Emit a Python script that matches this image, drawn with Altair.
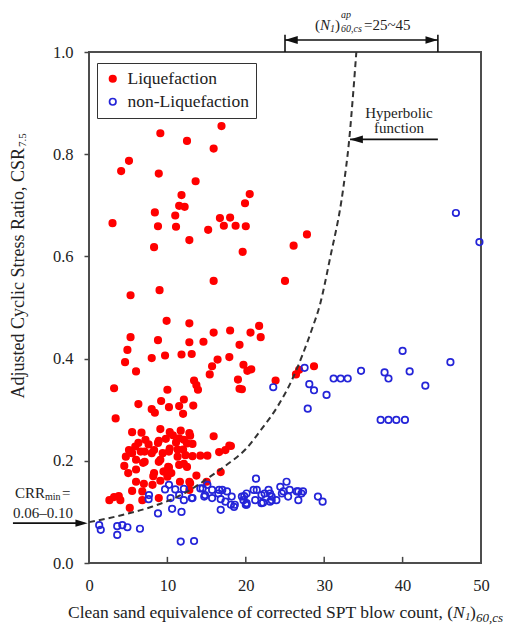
import altair as alt
import pandas as pd

# ---------------- data ----------------
liq_x = [16.9, 9.1, 12.5, 15.9, 5.1, 4.1, 8.9, 13.6, 11.8, 20.5, 19.9, 11.5, 12.2, 8.4, 11.0, 3.0, 8.8, 11.1,
         16.7, 18.0, 17.2, 18.7, 20.0, 15.2, 12.8, 8.3, 19.6, 15.9, 25.0, 5.3, 9.0, 26.1, 27.8,
         9.9, 12.8, 5.3, 8.8, 12.8, 14.6, 15.9, 18.0, 20.6, 21.7, 21.9, 19.2, 4.9, 4.6, 6.0, 8.0, 9.7, 11.8,
         13.1, 16.4, 17.9, 15.7, 15.4, 19.7, 20.7, 20.2, 19.0, 19.2, 19.5, 13.4, 13.7, 13.9, 3.2, 10.0, 6.3,
         9.2, 12.1, 8.0, 8.4, 10.2, 11.5, 13.3, 12.0, 3.4, 23.8, 26.4, 26.8, 28.7,
         5.5, 6.7, 9.1, 10.3, 11.7, 12.8, 15.9, 7.2, 6.3, 7.6, 8.9, 9.8, 11.1, 12.1, 13.2, 5.1, 5.5, 4.7, 6.6,
         6.0, 7.1, 8.3, 9.4, 10.2, 11.3, 12.3, 13.2, 14.2, 15.1, 16.6, 17.4, 17.9, 4.5, 6.0, 8.9, 10.2, 11.5,
         12.5, 5.0, 8.3, 9.6, 10.0, 16.8, 6.0, 7.0, 8.1, 9.1, 12.8, 13.7, 5.5, 6.8, 12.8, 2.6, 3.2, 3.8, 4.0,
         6.8, 8.9, 5.2, 10.7, 12.9, 8.8, 11.5, 12.5, 5.9, 7.1, 8.0, 10.3, 12.0, 6.9, 9.1, 11.3, 12.1, 10.1,
         8.2, 9.5, 10.5, 11.6, 12.9, 15.0, 18.1]
liq_y = [0.855, 0.841, 0.826, 0.811, 0.787, 0.767, 0.762, 0.747, 0.720, 0.722, 0.704, 0.699, 0.697, 0.686, 0.680,
         0.665, 0.659, 0.658, 0.675, 0.676, 0.660, 0.660, 0.659, 0.652, 0.632, 0.618, 0.609, 0.552, 0.552, 0.524,
         0.534, 0.621, 0.643,
         0.474, 0.469, 0.442, 0.436, 0.432, 0.433, 0.451, 0.455, 0.451, 0.464, 0.442, 0.427, 0.417, 0.393, 0.375,
         0.401, 0.406, 0.408, 0.409, 0.398, 0.403, 0.385, 0.369, 0.388, 0.379, 0.376, 0.359, 0.341, 0.340, 0.357,
         0.348, 0.339, 0.342, 0.339, 0.311, 0.317, 0.320, 0.301, 0.294, 0.305, 0.307, 0.308, 0.292, 0.283, 0.357,
         0.369, 0.378, 0.385,
         0.256, 0.255, 0.262, 0.256, 0.259, 0.254, 0.248, 0.241, 0.235, 0.232, 0.239, 0.243, 0.236, 0.241, 0.233,
         0.221, 0.215, 0.208, 0.218, 0.202, 0.198, 0.221, 0.215, 0.218, 0.222, 0.211, 0.209, 0.210, 0.210, 0.217,
         0.221, 0.230, 0.190, 0.183, 0.198, 0.187, 0.192, 0.188, 0.176, 0.176, 0.179, 0.169, 0.178, 0.159, 0.155,
         0.153, 0.161, 0.159, 0.171, 0.141, 0.140, 0.143, 0.123, 0.129, 0.131, 0.123, 0.123, 0.127, 0.108, 0.250,
         0.249, 0.235, 0.244, 0.234, 0.228, 0.218, 0.215, 0.224, 0.222, 0.196, 0.202, 0.208, 0.194, 0.188, 0.170,
         0.179, 0.176, 0.159, 0.156, 0.159, 0.229]

non_x = [1.3, 1.5, 3.6, 4.25, 4.9, 3.6, 6.5, 11.7, 13.4, 8.8, 10.6, 11.8, 7.65, 7.6, 9.7, 10.2, 11.0, 12.1, 10.4,
         11.5, 12.1, 13.2, 14.5, 15.1, 15.7, 16.6, 17.0, 17.6, 14.7, 15.7, 16.8, 17.4, 18.1, 18.5, 16.8, 19.8,
         20.0, 21.3, 25.2, 18.2, 18.6, 19.7, 20.1, 21.0, 21.4, 21.2, 22.0, 22.4, 22.9, 23.3, 23.1, 23.9, 24.4,
         24.6, 25.4, 25.6, 26.5, 26.7, 27.1, 29.2, 29.8, 14.2, 14.8, 16.5, 19.5, 20.1, 22.0, 23.1, 24.8, 26.7,
         27.3, 20.1, 22.2, 23.3, 13.1,
         23.5, 27.5, 28.1, 28.7, 30.3, 27.9, 31.2, 32.1, 33.0, 34.7, 46.8, 49.8, 40.0, 46.1, 37.7, 38.2, 40.9,
         42.9, 37.2, 38.2, 39.2, 40.3]
non_y = [0.074, 0.065, 0.072, 0.074, 0.070, 0.055, 0.067, 0.042, 0.043, 0.097, 0.106, 0.100, 0.133, 0.125, 0.144,
         0.153, 0.144, 0.145, 0.127, 0.133, 0.123, 0.127, 0.146, 0.153, 0.143, 0.143, 0.143, 0.140, 0.130, 0.127,
         0.125, 0.120, 0.114, 0.110, 0.104, 0.131, 0.114, 0.165, 0.159, 0.130, 0.114, 0.123, 0.114, 0.143, 0.143,
         0.123, 0.117, 0.136, 0.143, 0.130, 0.120, 0.123, 0.149, 0.136, 0.130, 0.143, 0.140, 0.123, 0.136, 0.130,
         0.120, 0.146, 0.133, 0.136, 0.130, 0.136, 0.133, 0.136, 0.140, 0.140, 0.140, 0.117, 0.118, 0.123, 0.127,
         0.344, 0.382, 0.350, 0.338, 0.329, 0.302, 0.361, 0.361, 0.361, 0.376, 0.685, 0.628, 0.415, 0.393, 0.373,
         0.361, 0.375, 0.347, 0.280, 0.280, 0.280, 0.280]

curve_x = [0, 4, 8, 12, 16, 18, 20, 22, 24, 26, 27.3, 28.4, 29.5, 30.7, 32.4, 33.2, 33.7, 34.1]
curve_y = [0.08, 0.093, 0.11, 0.135, 0.175, 0.197, 0.223, 0.262, 0.305, 0.362, 0.41, 0.456, 0.508, 0.593,
           0.73, 0.83, 0.92, 1.0]

x_tick_values = [0, 10, 20, 30, 40, 50]
y_tick_values = [0.0, 0.2, 0.4, 0.6, 0.8, 1.0]
inner_ticks = [10, 20, 30, 40]
categories = ["Liquefaction", "non-Liquefaction"]

# ---------------- layout ----------------
SERIF = "Liberation Serif"
X0, Y0 = 89, 52
W, H = 392, 511
INK = "#222222"

xs = alt.Scale(domain=[0, 50], nice=False, zero=False)
ys = alt.Scale(domain=[0, 1], nice=False, zero=False)

df_pts = pd.DataFrame({
    "x": liq_x + non_x,
    "y": liq_y + non_y,
    "type": [categories[0]] * len(liq_x) + [categories[1]] * len(non_x),
})

legend = alt.Legend(title=None, orient="none", legendX=8, legendY=11, strokeColor="#333333",
                    fillColor="white", padding=7, rowPadding=4, labelFont=SERIF, labelFontSize=17.5,
                    labelColor=INK, symbolSize=42, symbolStrokeWidth=1.7, labelOffset=6)

points = alt.Chart(df_pts).mark_point(shape="circle", size=42, strokeWidth=1.7, opacity=1).encode(
    x=alt.X("x:Q", scale=xs, axis=alt.Axis(values=x_tick_values, ticks=False, domain=False, grid=False,
                                            labelFont=SERIF, labelFontSize=16.5, labelColor=INK,
                                            labelPadding=14, title=None, labelFlush=False)),
    y=alt.Y("y:Q", scale=ys, axis=alt.Axis(values=y_tick_values, format=".1f", tickSize=5, tickWidth=1.5,
                                            tickColor="#444444", domain=False, grid=False, labelFont=SERIF,
                                            labelFontSize=16.5, labelColor=INK, labelPadding=11, title=None,
                                            labelFlush=False)),
    fill=alt.Fill("type:N", scale=alt.Scale(domain=categories, range=["#ff0000", "transparent"]), legend=legend),
    stroke=alt.Stroke("type:N", scale=alt.Scale(domain=categories, range=["#ff0000", "#2424d8"]), legend=legend),
)

curve = alt.Chart(pd.DataFrame({"x": curve_x, "y": curve_y})).mark_line(
    color="#333333", strokeWidth=2, strokeDash=[6, 4], interpolate="monotone").encode(
    x=alt.X("x:Q", scale=xs), y=alt.Y("y:Q", scale=ys))

ticks = alt.Chart(pd.DataFrame({"x": inner_ticks})).mark_rule(color="#444444", strokeWidth=1.5).encode(
    x=alt.X("x:Q", scale=xs), y=alt.datum(0), y2=alt.datum(0.012))

# arrows (annotation lines in data units)
seg = pd.DataFrame({
    "x":  [33.3, 25.0, -9.7, 25.0, 44.5],
    "x2": [44.5, 44.5, -0.6, 25.0, 44.5],
    "y":  [0.829, 1.0235, 0.078, 1.0, 1.0],
    "y2": [0.829, 1.0235, 0.078, 1.034, 1.034],
})
lines = alt.Chart(seg).mark_rule(color="#111111", strokeWidth=1.6).encode(
    x=alt.X("x:Q", scale=xs), x2="x2:Q", y=alt.Y("y:Q", scale=ys), y2="y2:Q")

LEFT = "M -1 0 L 1 -0.6 L 1 0.6 Z"
RIGHT = "M 1 0 L -1 -0.6 L -1 0.6 Z"
heads_l = alt.Chart(pd.DataFrame({"x": [34.1, 25.8], "y": [0.829, 1.0235]})).mark_point(
    shape=LEFT, size=169, filled=True, color="#111111", opacity=1).encode(
    x=alt.X("x:Q", scale=xs), y=alt.Y("y:Q", scale=ys))
heads_r = alt.Chart(pd.DataFrame({"x": [43.7, -0.95], "y": [1.0235, 0.078]})).mark_point(
    shape=RIGHT, size=150, filled=True, color="#111111", opacity=1).encode(
    x=alt.X("x:Q", scale=xs), y=alt.Y("y:Q", scale=ys))


def txt(s, px, py, size=15, align="left", style="normal", angle=None):
    kw = dict(font=SERIF, fontSize=size, align=align, baseline="middle", fontStyle=style, color=INK)
    if angle is not None:
        kw["angle"] = angle
    return alt.Chart(pd.DataFrame({"t": [s]})).mark_text(**kw).encode(
        x=alt.value(px - X0), y=alt.value(py - Y0), text="t:N")


texts = [
    # x title
    txt("Clean sand equivalence of corrected SPT blow count, (", 453, 613, 17.5, "right"),
    txt("N", 453, 613, 17.5, "left", "italic"),
    txt("1", 465, 617, 11, "left", "italic"),
    txt(")", 470, 613, 17.5, "left"),
    txt("60,cs", 476, 618, 13, "left", "italic"),
    # y title
    txt("Adjusted Cyclic Stress Ratio, CSR", 19, 148, 18, "right", angle=270),
    txt("7.5", 23, 147, 11, "left", angle=270),
    # top label
    txt("(", 315, 25, 15, "left"),
    txt("N", 320, 25, 15, "left", "italic"),
    txt("1", 330, 29, 10, "left", "italic"),
    txt(")", 335, 25, 15, "left"),
    txt("ap", 341, 15, 10, "left", "italic"),
    txt("60,cs", 341, 29, 10, "left", "italic"),
    txt("=25~45", 364, 25, 15, "left"),
    # hyperbolic
    txt("Hyperbolic", 399, 113, 15, "center"),
    txt("function", 399, 128, 15, "center"),
    # CRR min
    txt("CRR", 15, 493, 15, "left"),
    txt("min", 45, 497, 10, "left"),
    txt("=", 62, 493, 15, "left"),
    txt("0.06\u20130.10", 43, 513, 15, "center"),
]

chart = alt.layer(points, curve, ticks, lines, heads_l, heads_r, *texts).properties(
    width=W, height=H,
    padding={"left": X0, "top": Y0, "right": 514 - X0 - W, "bottom": 626 - Y0 - H},
    autosize=alt.AutoSizeParams(type="none"),
    background="white",
).configure_view(stroke="#4d4d4d", strokeWidth=2
).configure_axis(labelFont=SERIF, titleFont=SERIF
).configure_legend(labelFont=SERIF, titleFont=SERIF)

chart.save("out.html", embed_options={"renderer": "svg", "actions": False})
